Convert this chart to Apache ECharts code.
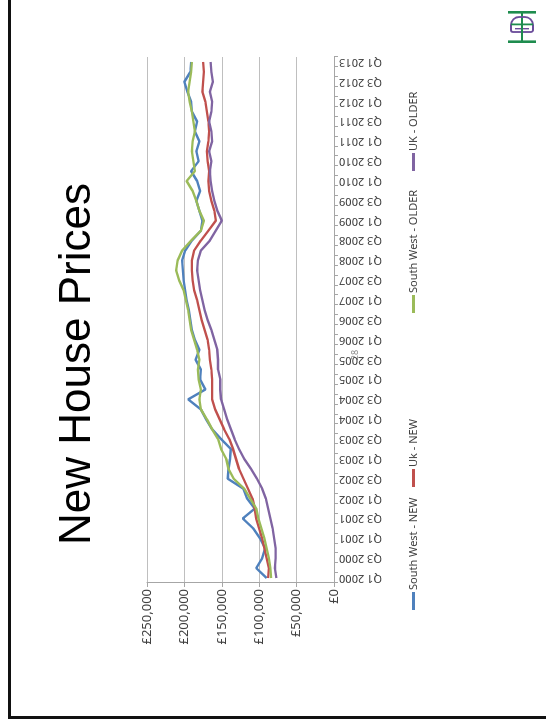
<!DOCTYPE html>
<html>
<head>
<meta charset="utf-8">
<title>New House Prices</title>
<script src="https://cdn.jsdelivr.net/npm/echarts@6/dist/echarts.min.js"></script>
<style>
  html, body { margin: 0; padding: 0; background: #ffffff; overflow: hidden; }
  body { width: 546px; height: 726px; position: relative; }
  /* the slide is laid out landscape and turned a quarter turn */
  #slide {
    position: absolute;
    width: 726px; height: 546px;
    left: -90px; top: 90px;
    transform: rotate(-90deg);
    transform-origin: 50% 50%;
    background: #ffffff;
  }
</style>
</head>
<body>
<div id="slide"></div>
<script>
// Quarterly categories, Q1 2000 .. Q1 2013
const quarters = [
  'Q1 2000','Q2 2000','Q3 2000','Q4 2000',
  'Q1 2001','Q2 2001','Q3 2001','Q4 2001',
  'Q1 2002','Q2 2002','Q3 2002','Q4 2002',
  'Q1 2003','Q2 2003','Q3 2003','Q4 2003',
  'Q1 2004','Q2 2004','Q3 2004','Q4 2004',
  'Q1 2005','Q2 2005','Q3 2005','Q4 2005',
  'Q1 2006','Q2 2006','Q3 2006','Q4 2006',
  'Q1 2007','Q2 2007','Q3 2007','Q4 2007',
  'Q1 2008','Q2 2008','Q3 2008','Q4 2008',
  'Q1 2009','Q2 2009','Q3 2009','Q4 2009',
  'Q1 2010','Q2 2010','Q3 2010','Q4 2010',
  'Q1 2011','Q2 2011','Q3 2011','Q4 2011',
  'Q1 2012','Q2 2012','Q3 2012','Q4 2012',
  'Q1 2013'
];

const seriesNames = ['South West - NEW', 'Uk - NEW', 'South West - OLDER', 'UK - OLDER'];

// Average prices (GBP)
const southWestNew = [
  90000, 104000, 96000, 92000, 99000, 108000, 122000, 106000,
  116000, 121000, 142000, 141000, 139000, 138000, 151000, 163000,
  171000, 178000, 195000, 172000, 179000, 178000, 185000, 180000,
  186000, 190000, 192000, 194000, 197000, 199000, 201000, 202000,
  203000, 199000, 190000, 178000, 176000, 180000, 184000, 179000,
  183000, 191000, 181000, 184000, 180000, 186000, 183000, 190000,
  191000, 196000, 200000, 192000, 191000
];
const ukNew = [
  88000, 87000, 90000, 93000, 96000, 100000, 104000, 106000,
  109000, 115000, 121000, 127000, 131000, 135000, 140000, 147000,
  153000, 159000, 163000, 163000, 163000, 164000, 166000, 167000,
  169000, 173000, 177000, 180000, 183000, 187000, 189000, 190000,
  190000, 187000, 178000, 168000, 158000, 160000, 164000, 167000,
  168000, 167000, 169000, 170000, 168000, 167000, 168000, 170000,
  172000, 176000, 175000, 174000, 175000
];
const southWestOlder = [
  84000, 85000, 87000, 90000, 93000, 97000, 101000, 104000,
  112000, 120000, 134000, 141000, 144000, 151000, 155000, 163000,
  170000, 178000, 180000, 178000, 181000, 182000, 180000, 183000,
  187000, 191000, 193000, 195000, 198000, 201000, 207000, 211000,
  209000, 203000, 191000, 178000, 174000, 180000, 184000, 189000,
  197000, 186000, 188000, 190000, 189000, 186000, 188000, 190000,
  193000, 195000, 193000, 191000, 190000
];
const ukOlder = [
  77000, 79000, 78000, 78000, 80000, 82000, 85000, 88000,
  91000, 96000, 103000, 111000, 120000, 127000, 133000, 138000,
  143000, 147000, 151000, 152000, 152000, 155000, 155000, 156000,
  160000, 164000, 169000, 173000, 176000, 179000, 181000, 183000,
  182000, 178000, 166000, 158000, 150000, 156000, 160000, 163000,
  165000, 166000, 164000, 167000, 163000, 164000, 167000, 164000,
  163000, 166000, 162000, 164000, 165000
];

const valueTicks = { min: 0, max: 250000, step: 50000 };
const lineColors = ['#4F81BD', '#C0504D', '#9BBB59', '#8064A2'];

const chart = echarts.init(document.getElementById('slide'), null, { renderer: 'canvas', width: 726, height: 546 });

const gridColor = '#BFBFBF';
const axisColor = '#A6A6A6';
const labelFont = '"Noto Sans", "Open Sans", sans-serif';

function poundFormat(v) {
  return '\u00A3' + Number(v).toLocaleString('en-GB');
}

// legend entries sit in their own slots along the bottom of the slide
const legendSlots = [111, 234, 408, 550];
const legends = seriesNames.map((name, i) => ({
  data: [name],
  left: legendSlots[i],
  top: 403,
  itemWidth: 18,
  itemHeight: 3,
  icon: 'rect',
  selectedMode: false,
  textStyle: { fontFamily: labelFont, fontSize: 11, color: '#404040', padding: [0, 0, 0, -3] }
}));

// small emblem in the slide corner (drawn upright on the turned page)
const green = '#1E8C4E';
const purple = '#6B4C9A';
const emblem = {
  type: 'group',
  x: 699, y: 522,
  rotation: -Math.PI / 2,
  silent: true,
  children: [
    { type: 'rect', shape: { x: -14, y: -16, width: 28, height: 2.6 }, style: { fill: green } },
    { type: 'rect', shape: { x: -1, y: -14, width: 2, height: 5 }, style: { fill: green } },
    { type: 'rect', shape: { x: -11, y: -10, width: 22, height: 15, r: [8, 8, 2, 2] }, style: { fill: 'none', stroke: purple, lineWidth: 1.8 } },
    { type: 'rect', shape: { x: -11, y: -3.5, width: 22, height: 1.8 }, style: { fill: green } },
    { type: 'rect', shape: { x: -7, y: 1, width: 14, height: 1.4 }, style: { fill: purple } },
    { type: 'rect', shape: { x: -1, y: -9, width: 2, height: 23 }, style: { fill: green } },
    { type: 'rect', shape: { x: -14, y: 13.4, width: 28, height: 2.6 }, style: { fill: green } }
  ]
};

const option = {
  backgroundColor: '#ffffff',
  animation: false,
  color: lineColors,
  grid: { left: 143, right: 57, top: 147, bottom: 212, containLabel: false },
  legend: legends,
  xAxis: {
    type: 'category',
    data: quarters,
    boundaryGap: true,
    axisLine: { show: true, lineStyle: { color: axisColor, width: 1 } },
    axisTick: { show: true, interval: 0, length: 4, lineStyle: { color: axisColor } },
    axisLabel: {
      interval: 1,
      rotate: 90,
      margin: 5,
      fontFamily: labelFont,
      fontSize: 11,
      color: '#404040'
    },
    splitLine: { show: false }
  },
  yAxis: {
    type: 'value',
    min: valueTicks.min,
    max: valueTicks.max,
    interval: valueTicks.step,
    axisLine: { show: true, lineStyle: { color: axisColor, width: 1 } },
    axisTick: { show: true, length: 4, lineStyle: { color: axisColor } },
    axisLabel: {
      formatter: poundFormat,
      margin: 6,
      fontFamily: labelFont,
      fontSize: 13,
      color: '#404040'
    },
    splitLine: { show: true, lineStyle: { color: gridColor, width: 1 } }
  },
  series: [
    { name: seriesNames[0], type: 'line', data: southWestNew },
    { name: seriesNames[1], type: 'line', data: ukNew },
    { name: seriesNames[2], type: 'line', data: southWestOlder },
    { name: seriesNames[3], type: 'line', data: ukOlder }
  ].map(s => Object.assign(s, {
    symbol: 'none',
    smooth: false,
    lineStyle: { width: 2.4 }
  })),
  graphic: [
    // slide frame
    { type: 'rect', silent: true, shape: { x: 8.5, y: 9.5, width: 800, height: 600 }, style: { fill: 'none', stroke: '#111111', lineWidth: 3 } },
    // slide title
    { type: 'text', silent: true, x: 362, y: 77.5, style: { text: 'New House Prices', fontFamily: '"Liberation Sans", Arial, sans-serif', fontSize: 44, fill: '#000000', align: 'center', verticalAlign: 'middle' } },
    // page number
    { type: 'text', silent: true, x: 371, y: 355, style: { text: '28', fontFamily: labelFont, fontSize: 9, fill: '#8C8C8C', align: 'center', verticalAlign: 'middle' } },
    emblem
  ]
};

chart.setOption(option);
</script>
</body>
</html>
